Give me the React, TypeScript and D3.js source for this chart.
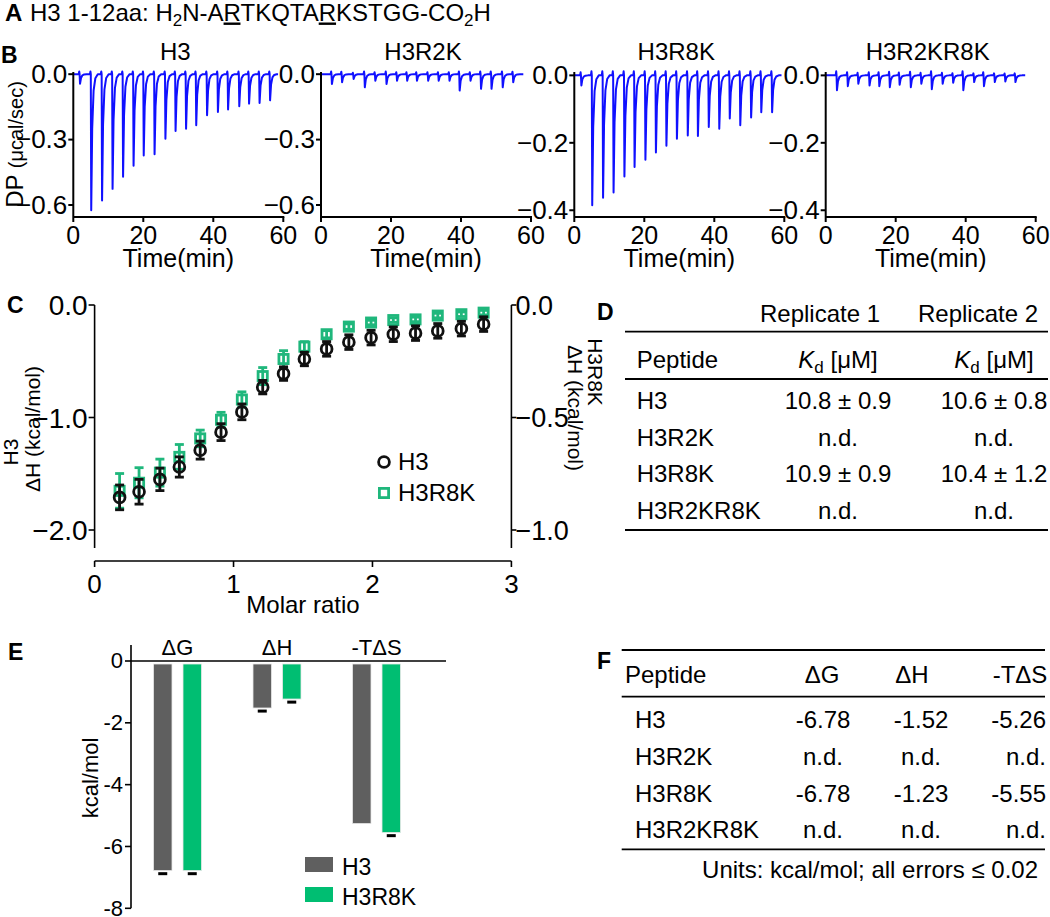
import React from 'react';
import * as d3 from 'd3';

const FONT = "'Liberation Sans', Arial, Helvetica, sans-serif";
const BLUE = '#1010ff';
const GREEN_C = '#1fb77c';
const GREEN_E = '#00be72';
const GRAY_E = '#5f5f5f';

// ---------- Panel B: raw ITC thermograms ----------
const itcTitles = ['H3', 'H3R2K', 'H3R8K', 'H3R2KR8K'];
const timeTicks = [0, 20, 40, 60];
const dpTicksWide = [0, -0.3, -0.6];
const dpTicksNarrow = [0, -0.2, -0.4];

const h3InjTimes = [1.8, 5, 8.1, 11.1, 14.1, 17.1, 20, 23.1, 26.2, 29.1, 32.1, 35, 38.1, 41.2, 44.1, 47.3, 50.1, 53.1, 56.1];
const h3PeakDP = [-0.044, -0.624, -0.579, -0.526, -0.47, -0.42, -0.373, -0.367, -0.296, -0.261, -0.25, -0.234, -0.188, -0.173, -0.162, -0.147, -0.135, -0.132, -0.12];

const r2kInjTimes = [3.0, 5.9, 9.2, 12.4, 15.4, 18.6, 21.6, 24.5, 27.3, 30.5, 33.5, 36.6, 39.5, 42.6, 45.6, 48.6, 51.8, 54.8];
const r2kPeakDP = [-0.045, -0.037, -0.022, -0.06, -0.03, -0.045, -0.03, -0.03, -0.03, -0.03, -0.03, -0.03, -0.075, -0.03, -0.067, -0.067, -0.06, -0.037];

const r8kInjTimes = [1.9, 5, 8.1, 11.1, 14.2, 17.1, 20.2, 23.2, 26.2, 29.2, 32.3, 35.2, 38.3, 41.3, 44.3, 47.3, 50.4, 53.3, 56.4];
const r8kPeakDP = [-0.03, -0.385, -0.363, -0.347, -0.3, -0.272, -0.25, -0.229, -0.209, -0.188, -0.178, -0.18, -0.153, -0.158, -0.128, -0.148, -0.125, -0.109, -0.109];

const dblInjTimes = [3.1, 6.2, 9.2, 12.4, 15.2, 18.2, 21.0, 24.2, 27.2, 30.2, 33.3, 36.3, 39.2, 42.3, 45.1, 48.2, 51.2, 54.1];
const dblPeakDP = [-0.044, -0.032, -0.025, -0.03, -0.032, -0.035, -0.028, -0.035, -0.025, -0.041, -0.025, -0.022, -0.044, -0.02, -0.032, -0.02, -0.018, -0.02];

const itcEndTimes = [58.5, 57.8, 59.2, 57];

// ---------- Panel C: integrated heats ----------
const molarRatio = [0.18, 0.32, 0.47, 0.61, 0.76, 0.91, 1.06, 1.21, 1.36, 1.51, 1.67, 1.83, 1.99, 2.15, 2.31, 2.47, 2.64, 2.80];
const h3DeltaH = [-1.71, -1.66, -1.55, -1.44, -1.29, -1.13, -0.95, -0.73, -0.61, -0.48, -0.39, -0.33, -0.29, -0.26, -0.25, -0.23, -0.21, -0.17];
const h3DeltaHErr = [0.11, 0.11, 0.1, 0.09, 0.08, 0.075, 0.07, 0.06, 0.06, 0.06, 0.065, 0.065, 0.065, 0.065, 0.065, 0.065, 0.065, 0.065];
const r8kDeltaH = [-0.826, -0.79, -0.745, -0.675, -0.593, -0.51, -0.42, -0.316, -0.24, -0.185, -0.13, -0.096, -0.078, -0.067, -0.064, -0.047, -0.041, -0.034];
const r8kDeltaHErr = [0.077, 0.067, 0.06, 0.055, 0.037, 0.033, 0.034, 0.038, 0.037, 0.022, 0.016, 0.012, 0.01, 0.01, 0.01, 0.01, 0.01, 0.01];
const cLeftTicks = [0, -1, -2];
const cRightTicks = [0, -0.5, -1];
const cXTicks = [0, 1, 2, 3];

// ---------- Panel D: Kd table ----------
const dPeptides = ['H3', 'H3R2K', 'H3R8K', 'H3R2KR8K'];
const dRep1 = ['10.8 ± 0.9', 'n.d.', '10.9 ± 0.9', 'n.d.'];
const dRep2 = ['10.6 ± 0.8', 'n.d.', '10.4 ± 1.2', 'n.d.'];

// ---------- Panel E: thermodynamic bars ----------
const eGroups = ['ΔG', 'ΔH', '-TΔS'];
const eSeries = ['H3', 'H3R8K'];
const eH3 = [-6.78, -1.52, -5.26];
const eR8K = [-6.78, -1.23, -5.55];
const eH3Err = [0.1, 0.1, 0];
const eR8KErr = [0.1, 0.1, 0.1];
const eTicks = [0, -2, -4, -6, -8];

// ---------- Panel F: thermodynamic table ----------
const fPeptides = ['H3', 'H3R2K', 'H3R8K', 'H3R2KR8K'];
const fDG = ['-6.78', 'n.d.', '-6.78', 'n.d.'];
const fDH = ['-1.52', 'n.d.', '-1.23', 'n.d.'];
const fTDS = ['-5.26', 'n.d.', '-5.55', 'n.d.'];

function buildTrace(times: number[], peaks: number[], tEnd: number): [number, number][] {
  const pts: [number, number][] = [[0, 0]];
  times.forEach((t, i) => {
    const p = peaks[i];
    const blip = Math.min(0.012, Math.abs(p) * 0.3);
    pts.push([t - 0.25, 0]);
    pts.push([t - 0.1, blip]);
    pts.push([t, 0]);
    pts.push([t + 0.12, p]);
    pts.push([t + 0.4, p * 0.4]);
    pts.push([t + 0.8, p * 0.12]);
    pts.push([t + 1.3, p * 0.03]);
    pts.push([t + 2, 0]);
  });
  pts.push([tEnd, 0]);
  return pts;
}

type ItcProps = {
  title: string; x0: number; x1: number; domain: [number, number]; ticks: number[];
  times: number[]; peaks: number[]; tEnd: number; yLabel?: boolean;
};

function ItcPlot({ title, x0, x1, domain, ticks, times, peaks, tEnd, yLabel }: ItcProps) {
  const top = 72, bottom = 217;
  const x = d3.scaleLinear().domain([0, 60]).range([x0, x1]);
  const y = d3.scaleLinear().domain(domain).range([bottom, top]);
  const line = d3.line<[number, number]>().x(d => x(d[0])).y(d => y(d[1]));
  const pts = buildTrace(times, peaks, tEnd);
  const fmt = d3.format('.1f');
  return (
    <g>
      <text x={(x0 + x1) / 2 - 3} y={60} fontSize={24} textAnchor="middle">{title}</text>
      <path d={line(pts) || ''} fill="none" stroke={BLUE} strokeWidth={2} strokeLinejoin="round" />
      <line x1={x0} x2={x0} y1={top} y2={bottom} stroke="#000" strokeWidth={2} />
      <line x1={x0} x2={x1 + 1} y1={bottom} y2={bottom} stroke="#000" strokeWidth={2} />
      {ticks.map(t => (
        <g key={t}>
          <line x1={x0 - 5} x2={x0} y1={y(t)} y2={y(t)} stroke="#000" strokeWidth={2} />
          <text x={x0 - 6} y={y(t)} dy="0.34em" fontSize={26} textAnchor="end">{fmt(t)}</text>
        </g>
      ))}
      {timeTicks.map(t => (
        <g key={t}>
          <line x1={x(t)} x2={x(t)} y1={bottom} y2={bottom + 5} stroke="#000" strokeWidth={2} />
          <text x={x(t)} y={244} fontSize={25} textAnchor="middle">{t}</text>
        </g>
      ))}
      <text x={(x0 + x1) / 2} y={267} fontSize={25} textAnchor="middle">Time(min)</text>
      {yLabel && (
        <text transform={`translate(23,${(top + bottom) / 2}) rotate(-90)`} fontSize={24} textAnchor="middle">
          <tspan fontSize={24}>DP </tspan>
          <tspan fontSize={20}>(μcal/sec)</tspan>
        </text>
      )}
    </g>
  );
}

function PanelB() {
  const plots = [
    { x0: 73.3, x1: 283.3, domain: [-0.655, 0.01] as [number, number], ticks: dpTicksWide, times: h3InjTimes, peaks: h3PeakDP },
    { x0: 321, x1: 531, domain: [-0.655, 0.01] as [number, number], ticks: dpTicksWide, times: r2kInjTimes, peaks: r2kPeakDP },
    { x0: 574.3, x1: 784.3, domain: [-0.42, 0.01] as [number, number], ticks: dpTicksNarrow, times: r8kInjTimes, peaks: r8kPeakDP },
    { x0: 825.7, x1: 1035.7, domain: [-0.42, 0.01] as [number, number], ticks: dpTicksNarrow, times: dblInjTimes, peaks: dblPeakDP },
  ];
  return (
    <g>
      <text x={1} y={63} fontSize={23} fontWeight="bold">B</text>
      {plots.map((p, i) => (
        <ItcPlot key={i} title={itcTitles[i]} {...p} tEnd={itcEndTimes[i]} yLabel={i === 0} />
      ))}
    </g>
  );
}

function PanelC() {
  const x = d3.scaleLinear().domain([0, 3]).range([94.6, 511.4]);
  const yL = d3.scaleLinear().domain([-2, 0]).range([530, 305]);
  const yR = d3.scaleLinear().domain([-1, 0]).range([530, 305]);
  const axisBottomY = 548;
  const xAxisY = 561;
  const fmt = d3.format('.1f');
  const half = 6;
  const r = 5.4;
  return (
    <g>
      <text x={7} y={313} fontSize={23} fontWeight="bold">C</text>
      {/* left axis */}
      <line x1={x(0)} x2={x(0)} y1={yL(0)} y2={axisBottomY} stroke="#000" strokeWidth={1.6} />
      {cLeftTicks.map(t => (
        <g key={t}>
          <line x1={x(0) - 6} x2={x(0)} y1={yL(t)} y2={yL(t)} stroke="#000" strokeWidth={1.6} />
          <text x={x(0) - 7} y={yL(t)} dy="0.36em" fontSize={28} textAnchor="end">{fmt(t)}</text>
        </g>
      ))}
      {/* right axis */}
      <line x1={x(3)} x2={x(3)} y1={yR(0)} y2={axisBottomY} stroke="#000" strokeWidth={1.6} />
      {cRightTicks.map(t => (
        <g key={t}>
          <line x1={x(3)} x2={x(3) + 5} y1={yR(t)} y2={yR(t)} stroke="#000" strokeWidth={1.6} />
          <text x={x(3) + 4} y={yR(t)} dy="0.36em" fontSize={27} textAnchor="start">{fmt(t)}</text>
        </g>
      ))}
      {/* x axis */}
      <line x1={x(0)} x2={x(3)} y1={xAxisY} y2={xAxisY} stroke="#000" strokeWidth={1.6} />
      {cXTicks.map(t => (
        <g key={t}>
          <line x1={x(t)} x2={x(t)} y1={xAxisY} y2={xAxisY + 6} stroke="#000" strokeWidth={1.6} />
          <text x={x(t)} y={593} fontSize={26} textAnchor="middle">{t}</text>
        </g>
      ))}
      <text x={(x(0) + x(3)) / 2} y={613} fontSize={24} textAnchor="middle">Molar ratio</text>
      {/* left label */}
      <text transform={`translate(10,452) rotate(-90)`} dy="0.36em" fontSize={21} textAnchor="middle">H3</text>
      <text transform={`translate(32,429) rotate(-90)`} dy="0.36em" fontSize={21} textAnchor="middle">ΔH (kcal/mol)</text>
      {/* right label */}
      <text transform={`translate(596,372) rotate(90)`} dy="0.36em" fontSize={21} textAnchor="middle">H3R8K</text>
      <text transform={`translate(576,408) rotate(90)`} dy="0.36em" fontSize={21} textAnchor="middle">ΔH (kcal/mol)</text>

      {/* H3R8K (right axis) */}
      {molarRatio.map((m, i) => (
        <g key={'g' + i} stroke={GREEN_C} strokeWidth={2.8} fill="none">
          <line x1={x(m)} x2={x(m)} y1={yR(r8kDeltaH[i] - r8kDeltaHErr[i])} y2={yR(r8kDeltaH[i] + r8kDeltaHErr[i])} />
          <line x1={x(m) - 4.5} x2={x(m) + 4.5} y1={yR(r8kDeltaH[i] + r8kDeltaHErr[i])} y2={yR(r8kDeltaH[i] + r8kDeltaHErr[i])} />
          <line x1={x(m) - 4.5} x2={x(m) + 4.5} y1={yR(r8kDeltaH[i] - r8kDeltaHErr[i])} y2={yR(r8kDeltaH[i] - r8kDeltaHErr[i])} />
          <rect x={x(m) - half + 1.4} y={yR(r8kDeltaH[i]) - half + 1.4} width={2 * half - 2.8} height={2 * half - 2.8} />
        </g>
      ))}
      {/* H3 (left axis) */}
      {molarRatio.map((m, i) => (
        <g key={'k' + i} stroke="#111" strokeWidth={2.8} fill="none">
          <line x1={x(m)} x2={x(m)} y1={yL(h3DeltaH[i] - h3DeltaHErr[i])} y2={yL(h3DeltaH[i] + h3DeltaHErr[i])} />
          <line x1={x(m) - 4.5} x2={x(m) + 4.5} y1={yL(h3DeltaH[i] + h3DeltaHErr[i])} y2={yL(h3DeltaH[i] + h3DeltaHErr[i])} />
          <line x1={x(m) - 4.5} x2={x(m) + 4.5} y1={yL(h3DeltaH[i] - h3DeltaHErr[i])} y2={yL(h3DeltaH[i] - h3DeltaHErr[i])} />
          <circle cx={x(m)} cy={yL(h3DeltaH[i])} r={r} />
        </g>
      ))}
      {/* legend */}
      <circle cx={384} cy={462} r={r} fill="none" stroke="#111" strokeWidth={2.8} />
      <text x={398} y={470} fontSize={24}>H3</text>
      <rect x={384 - half + 1.4} y={493 - half + 1.4} width={2 * half - 2.8} height={2 * half - 2.8} fill="none" stroke={GREEN_C} strokeWidth={2.8} />
      <text x={398} y={501} fontSize={24}>H3R8K</text>
    </g>
  );
}

function PanelD() {
  const rowY = (i: number) => 409 + i * 36.6;
  return (
    <g fontSize={24}>
      <text x={597} y={320} fontSize={23} fontWeight="bold">D</text>
      <text x={820} y={322} textAnchor="middle">Replicate 1</text>
      <text x={978} y={322} textAnchor="middle">Replicate 2</text>
      <line x1={625} x2={1048} y1={331.7} y2={331.7} stroke="#000" strokeWidth={1.8} />
      <text x={636.7} y={368}>Peptide</text>
      {[838, 994].map(cx => (
        <text key={cx} x={cx} y={368} textAnchor="middle">
          <tspan fontStyle="italic">K</tspan>
          <tspan fontSize={17} dy={5}>d</tspan>
          <tspan dy={-5}> [μM]</tspan>
        </text>
      ))}
      <line x1={625} x2={1048} y1={379} y2={379} stroke="#000" strokeWidth={1.8} />
      {dPeptides.map((p, i) => (
        <g key={p}>
          <text x={636.7} y={rowY(i)}>{p}</text>
          <text x={838} y={rowY(i)} textAnchor="middle">{dRep1[i]}</text>
          <text x={994} y={rowY(i)} textAnchor="middle">{dRep2[i]}</text>
        </g>
      ))}
      <line x1={625} x2={1048} y1={530} y2={530} stroke="#000" strokeWidth={1.8} />
    </g>
  );
}

function PanelE() {
  const y = d3.scaleLinear().domain([-8, 0]).range([908.3, 661]);
  const xg = d3.scaleBand<string>().domain(eGroups).range([127.75, 426.25]).paddingInner(0).paddingOuter(0);
  const xs = d3.scaleBand<string>().domain(eSeries).range([-24, 24]).paddingInner(0.373);
  const axisX = 131;
  const values = [eH3, eR8K];
  const errs = [eH3Err, eR8KErr];
  const colors = [GRAY_E, GREEN_E];
  return (
    <g>
      <text x={8} y={660} fontSize={23} fontWeight="bold">E</text>
      <line x1={axisX} x2={axisX} y1={y(0) - 16} y2={y(-8)} stroke="#000" strokeWidth={1.6} />
      {eTicks.map(t => (
        <g key={t}>
          <line x1={axisX - 6} x2={axisX} y1={y(t)} y2={y(t)} stroke="#000" strokeWidth={1.6} />
          <text x={axisX - 8} y={y(t)} dy="0.34em" fontSize={22} textAnchor="end">{t}</text>
        </g>
      ))}
      <text transform={`translate(90,778) rotate(-90)`} dy="0.36em" fontSize={22} textAnchor="middle">kcal/mol</text>
      {eGroups.map((g, gi) => {
        const cx = (xg(g) || 0) + xg.bandwidth() / 2;
        return (
          <g key={g}>
            <text x={cx} y={655} fontSize={22} textAnchor="middle">{g}</text>
            {eSeries.map((s, si) => {
              const bx = cx + (xs(s) || 0);
              const v = values[si][gi];
              const e = errs[si][gi];
              return (
                <g key={s}>
                  <rect x={bx} y={y(0) + 3} width={xs.bandwidth()} height={y(v) - y(0) - 3} fill={colors[si]} stroke="#e8e8e8" strokeWidth={0.8} />
                  {e > 0 && (
                    <line x1={bx + xs.bandwidth() / 2 - 4.5} x2={bx + xs.bandwidth() / 2 + 4.5} y1={y(v - e)} y2={y(v - e)} stroke="#000" strokeWidth={3} />
                  )}
                </g>
              );
            })}
          </g>
        );
      })}
      <line x1={axisX} x2={446} y1={y(0)} y2={y(0)} stroke="#000" strokeWidth={1.6} />
      {eSeries.map((s, si) => (
        <g key={s}>
          <rect x={305} y={857 + si * 30} width={28} height={15} fill={colors[si]} />
          <text x={342} y={875 + si * 30} fontSize={23}>{s}</text>
        </g>
      ))}
    </g>
  );
}

function PanelF() {
  const rowY = (i: number) => 728.3 + i * 36.7;
  return (
    <g fontSize={24}>
      <text x={597} y={669} fontSize={23} fontWeight="bold">F</text>
      <line x1={621.7} x2={1045} y1={650} y2={650} stroke="#000" strokeWidth={1.8} />
      <text x={625} y={683.3}>Peptide</text>
      <text x={822} y={683.3} textAnchor="middle">ΔG</text>
      <text x={912} y={683.3} textAnchor="middle">ΔH</text>
      <text x={1020} y={683.3} textAnchor="middle">-TΔS</text>
      <line x1={621.7} x2={1045} y1={696.7} y2={696.7} stroke="#000" strokeWidth={1.8} />
      {fPeptides.map((p, i) => (
        <g key={p}>
          <text x={635} y={rowY(i)}>{p}</text>
          <text x={823} y={rowY(i)} textAnchor="middle">{fDG[i]}</text>
          <text x={921} y={rowY(i)} textAnchor="middle">{fDH[i]}</text>
          <text x={1046} y={rowY(i)} textAnchor="end">{fTDS[i]}</text>
        </g>
      ))}
      <line x1={621.7} x2={1045} y1={849.3} y2={849.3} stroke="#000" strokeWidth={1.8} />
      <text x={1038} y={878.3} textAnchor="end">Units: kcal/mol; all errors ≤ 0.02</text>
    </g>
  );
}

function PanelA() {
  return (
    <g>
      <text x={5} y={20.5} fontSize={24} fontWeight="bold">A</text>
      <text x={30} y={20.5} fontSize={24}>
        <tspan>H3 1-12aa: H</tspan>
        <tspan fontSize={17} dy={5}>2</tspan>
        <tspan dy={-5}>N-A</tspan>
        <tspan style={{ textDecoration: 'underline' }}>R</tspan>
        <tspan>TKQTA</tspan>
        <tspan style={{ textDecoration: 'underline' }}>R</tspan>
        <tspan>KSTGG-CO</tspan>
        <tspan fontSize={17} dy={5}>2</tspan>
        <tspan dy={-5}>H</tspan>
      </text>
    </g>
  );
}

export default function App() {
  return (
    <svg width={1050} height={917} viewBox="0 0 1050 917"
      style={{ position: 'absolute', left: 0, top: 0, background: '#fff' }}
      fontFamily={FONT} fill="#000">
      <rect x={0} y={0} width={1050} height={917} fill="#fff" />
      <PanelA />
      <PanelB />
      <PanelC />
      <PanelD />
      <PanelE />
      <PanelF />
    </svg>
  );
}
